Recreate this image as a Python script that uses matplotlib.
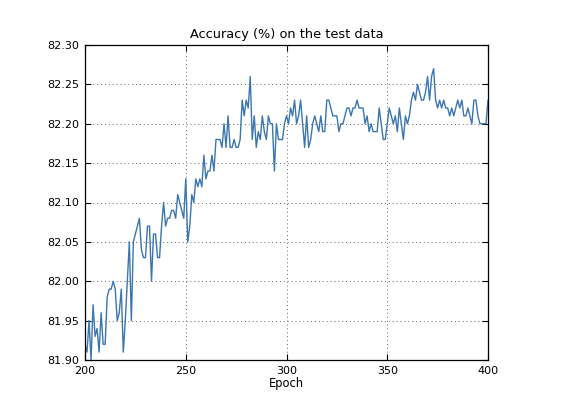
import matplotlib
matplotlib.use("Agg")
import matplotlib.pyplot as plt
import numpy as np

epochs = list(range(200, 401))
accuracy = [
    # 200-209
    81.92, 81.91, 81.95, 81.90, 81.97, 81.93, 81.94, 81.91, 81.96, 81.92,
    # 210-219
    81.92, 81.98, 81.99, 81.99, 82.00, 81.99, 81.95, 81.96, 81.99, 81.91,
    # 220-229
    81.95, 82.00, 82.05, 81.95, 82.05, 82.06, 82.07, 82.08, 82.04, 82.03,
    # 230-239
    82.03, 82.07, 82.07, 82.00, 82.06, 82.06, 82.03, 82.03, 82.07, 82.10,
    # 240-249
    82.07, 82.08, 82.08, 82.09, 82.09, 82.08, 82.11, 82.10, 82.09, 82.08,
    # 250-259
    82.13, 82.05, 82.07, 82.11, 82.10, 82.13, 82.12, 82.13, 82.12, 82.16,
    # 260-269
    82.13, 82.14, 82.14, 82.16, 82.14, 82.18, 82.18, 82.18, 82.17, 82.20,
    # 270-279
    82.17, 82.21, 82.17, 82.17, 82.18, 82.17, 82.17, 82.18, 82.23, 82.21,
    # 280-289
    82.23, 82.22, 82.26, 82.18, 82.21, 82.17, 82.19, 82.18, 82.21, 82.19,
    # 290-299
    82.18, 82.21, 82.20, 82.20, 82.14, 82.20, 82.18, 82.18, 82.18, 82.20,
    # 300-309
    82.21, 82.20, 82.22, 82.21, 82.23, 82.20, 82.21, 82.23, 82.20, 82.17,
    # 310-319
    82.21, 82.17, 82.18, 82.20, 82.21, 82.20, 82.19, 82.21, 82.19, 82.19,
    # 320-329
    82.23, 82.23, 82.22, 82.21, 82.21, 82.21, 82.19, 82.20, 82.20, 82.21,
    # 330-339
    82.22, 82.22, 82.21, 82.22, 82.22, 82.23, 82.22, 82.22, 82.22, 82.20,
    # 340-349
    82.21, 82.19, 82.20, 82.19, 82.19, 82.19, 82.22, 82.20, 82.18, 82.18,
    # 350-359
    82.20, 82.22, 82.21, 82.20, 82.21, 82.19, 82.22, 82.20, 82.18, 82.21,
    # 360-369
    82.20, 82.21, 82.23, 82.24, 82.23, 82.25, 82.24, 82.23, 82.23, 82.24,
    # 370-379
    82.26, 82.23, 82.26, 82.27, 82.23, 82.22, 82.23, 82.22, 82.23, 82.22,
    # 380-389
    82.22, 82.21, 82.22, 82.21, 82.22, 82.23, 82.22, 82.23, 82.21, 82.21,
    # 390-399
    82.22, 82.21, 82.20, 82.23, 82.23, 82.21, 82.20, 82.20, 82.20, 82.20,
    # 400
    82.23,
]
assert len(accuracy) == len(epochs)

title = "Accuracy (%) on the test data"
xlabel = "Epoch"
xticks = [200, 250, 300, 350, 400]
yticks = [81.90, 81.95, 82.00, 82.05, 82.10, 82.15, 82.20, 82.25, 82.30]

fig = plt.figure(figsize=(5.74, 3.96), dpi=100)
ax = fig.add_axes([85/574, 1-360/396, (488-85)/574, (360-45)/396])
ax.plot(epochs, accuracy, color="#3b76b0", linewidth=1.0)
ax.set_xlim(200, 400)
ax.set_ylim(81.90, 82.30)
ax.set_xticks(xticks)
ax.set_yticks(yticks)
ax.set_yticklabels([f"{v:.2f}" for v in yticks])
ax.tick_params(direction="in", top=True, right=True, labelsize=8, length=4, pad=4)
ax.grid(True, linestyle=(0, (1, 3)), color="#666666", linewidth=0.7)
ax.set_title(title, fontsize=9.3, pad=5)
ax.set_xlabel(xlabel, fontsize=8.3, labelpad=1)
for s in ax.spines.values():
    s.set_linewidth(0.9)
fig.savefig("out.png", dpi=100)
